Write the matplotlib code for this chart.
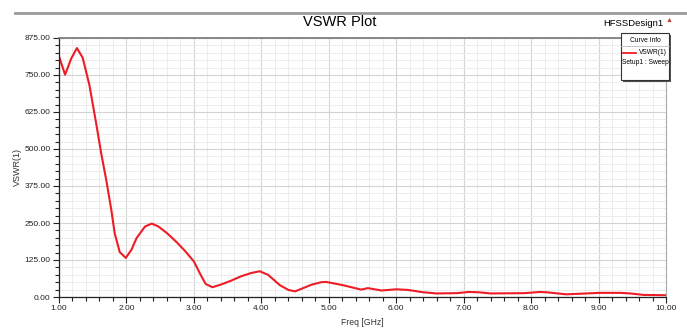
import numpy as np
import matplotlib.pyplot as plt
from matplotlib.ticker import MultipleLocator, FormatStrFormatter
from matplotlib.patches import Rectangle
from matplotlib.lines import Line2D

plt.rcParams['font.family'] = ['Liberation Sans Narrow', 'Liberation Sans', 'DejaVu Sans']

# VSWR(1) sweep, frequency in GHz
freq = [1.00, 1.09, 1.18, 1.265, 1.35, 1.45, 1.55, 1.625, 1.70, 1.775, 1.825, 1.90, 1.99,
        2.075, 2.15, 2.275, 2.375, 2.475, 2.60, 2.75, 2.875, 3.00, 3.10, 3.175, 3.275,
        3.40, 3.55, 3.70, 3.85, 3.975, 4.10, 4.275, 4.40, 4.50, 4.62, 4.75, 4.89, 4.96,
        5.21, 5.48, 5.58, 5.78, 6.00, 6.17, 6.40, 6.60, 6.90, 7.07, 7.22, 7.40, 7.90,
        8.13, 8.23, 8.52, 8.72, 9.02, 9.32, 9.47, 9.67, 10.00]
vswr = [813, 751, 805, 841, 809, 717, 588, 486, 396, 295, 216, 152, 132,
        160, 199, 238, 248, 238, 216, 184, 154, 120, 75, 44, 33,
        42, 55, 70, 81, 87, 75, 40, 24, 19, 30, 42, 50, 51,
        40, 25, 30, 22, 26, 24, 16, 12, 13, 17, 16, 12, 13,
        17, 16, 9, 11, 14, 14, 12, 7, 6]

x_major = 1.0
y_major = 125.0

W, H = 687, 328
fig = plt.figure(figsize=(W/100, H/100), dpi=100)
ax = fig.add_axes([59/W, 31/H, 607/W, 259/H])

ax.plot(freq, vswr, color='#ee1c25', lw=1.5)

ax.set_xlim(1, 10)
ax.set_ylim(0, 875)
ax.xaxis.set_major_locator(MultipleLocator(x_major))
ax.xaxis.set_minor_locator(MultipleLocator(0.2))
ax.yaxis.set_major_locator(MultipleLocator(y_major))
ax.yaxis.set_minor_locator(MultipleLocator(25))
ax.xaxis.set_major_formatter(FormatStrFormatter('%.2f'))
ax.yaxis.set_major_formatter(FormatStrFormatter('%.2f'))
ax.grid(which='major', color='#d4d4d4', lw=0.8)
ax.grid(which='minor', color='#ececec', lw=0.7)
ax.set_axisbelow(True)
ax.tick_params(which='both', direction='out', labelsize=6, color='#222222', width=0.8,
               labelcolor='#222222')
ax.tick_params(which='major', length=4, pad=2)
ax.tick_params(which='minor', length=3)
for s in ['left', 'bottom']:
    ax.spines[s].set_color('#222222')
    ax.spines[s].set_linewidth(0.9)
ax.spines['top'].set_color('#777777')
ax.spines['top'].set_linewidth(1.2)
ax.spines['right'].set_color('#aaaaaa')
ax.spines['right'].set_linewidth(0.8)

ax.set_ylabel('VSWR(1)', fontsize=6.5, labelpad=2, color='#333333')
ax.set_xlabel('Freq [GHz]', fontsize=6.2, labelpad=4, color='#333333')

# header
fig.add_artist(Line2D([15/W, 1], [1 - 13/H, 1 - 13/H], color='#9a9a9a', lw=2))
fig.text(340/W, 1 - 22/H, 'VSWR Plot', ha='center', va='center', fontsize=10.5)
fig.text(633/W, 1 - 23/H, 'HFSSDesign1', ha='center', va='center', fontsize=6.8)
fig.text(669/W, 1 - 21/H, '\u25b2', ha='center', va='center', fontsize=5, color='#c0392b')

# curve info box
bx, by, bw, bh = 621/W, 1 - 80/H, 48/W, 47/H
fig.add_artist(Rectangle((bx + 2/W, by - 2/H), bw, bh, facecolor='#555555',
                         edgecolor='none', transform=fig.transFigure))
fig.add_artist(Rectangle((bx, by), bw, bh, facecolor='white', edgecolor='#333333',
                         lw=0.8, transform=fig.transFigure))
fig.text(bx + bw/2, 1 - 40/H, 'Curve Info', ha='center', va='center', fontsize=4.8)
fig.add_artist(Line2D([bx, bx + bw], [1 - 46/H, 1 - 46/H], color='#bbbbbb', lw=0.6))
fig.add_artist(Line2D([623/W, 636/W], [1 - 53/H, 1 - 53/H], color='#ee1c25', lw=1.3))
fig.text(bx + bw - 2/W, 1 - 53/H, 'VSWR(1)', ha='right', va='center', fontsize=4.8)
fig.text(bx + bw/2, 1 - 63/H, 'Setup1 : Sweep', ha='center', va='center', fontsize=4.8)

fig.savefig('out.png', dpi=100)
